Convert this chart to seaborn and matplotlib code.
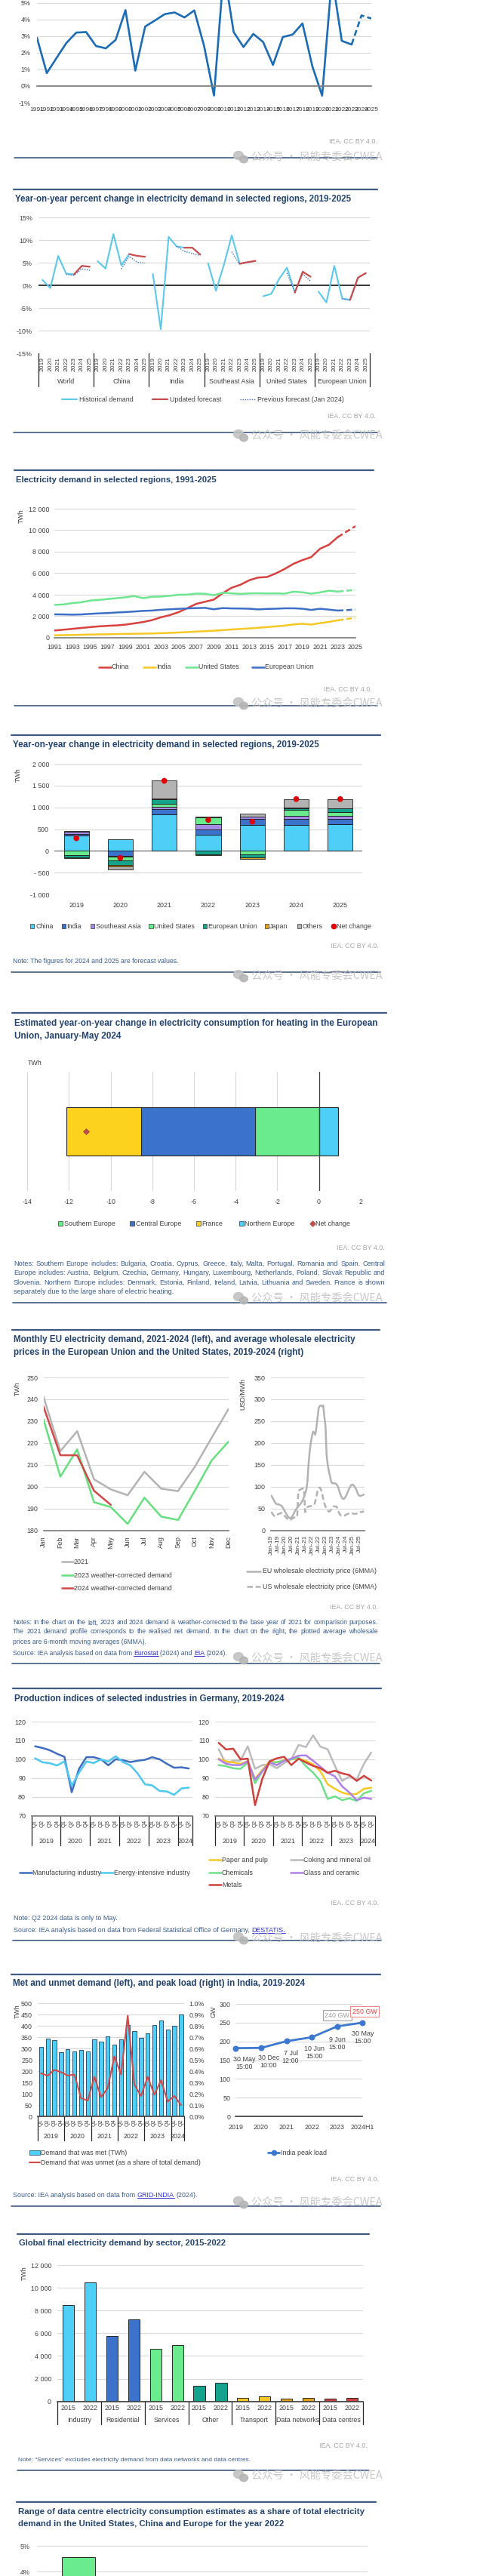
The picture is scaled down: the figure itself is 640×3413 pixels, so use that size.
import numpy as np
import pandas as pd
import matplotlib
matplotlib.use("Agg")
import matplotlib.pyplot as plt
import seaborn as sns
from matplotlib import font_manager as fm
from matplotlib.lines import Line2D
from matplotlib.patches import Rectangle, Ellipse

# ======================= DATA =======================
# Panel 1: world electricity demand growth (%)
world_years = list(range(1991, 2026))
world_growth_pct = [2.9, 0.78, 1.7, 2.6, 3.22, 3.25, 2.41, 2.27, 2.78, 4.57,
                    0.93, 3.58, 3.95, 4.33, 4.43, 4.13, 4.55, 2.4, -0.57, 7.0,
                    3.25, 2.35, 3.14, 2.65, 1.27, 2.95, 3.1, 3.77, 1.2, -0.58,
                    6.6, 2.72, 2.5, 4.25, 4.07]

# Panel 2: y-o-y % change per region
yoy_regions = ["World", "China", "India", "Southeast Asia", "United States", "European Union"]
yoy_years = ["2019", "2020", "2021", "2022", "2023", "2024", "2025"]
hist_world = [1.2, -0.6, 6.5, 2.6, 2.4]
hist_china = [5.3, 3.7, 11.3, 4.4, 6.9]
hist_india = [2.5, -9.7, 10.7, 8.6, 8.3]
hist_sea = [4.8, -1.2, 4.5, 11.0, 4.8]
hist_us = [-2.4, -1.9, 1.4, 3.9, -1.6]
hist_eu = [-1.4, -3.8, 4.3, -2.9, -3.2]
upd_world = [2.4, 4.3, 4.1]
upd_china = [6.9, 6.5, 6.3]
upd_india = [8.3, 8.3, 6.8]
upd_sea = [4.8, 5.1, 5.4]
upd_us = [-1.6, 3.0, 1.9]
upd_eu = [-3.2, 1.7, 2.7]
prev_world = [2.4, 2.2, 3.6, 3.3]
prev_china = [3.6, 6.4, 5.1, 4.9]
prev_india = [8.6, 7.5, 7.0, 6.6]
prev_sea = [7.4, 4.6, 5.0, 5.3]
prev_us = [2.7, -1.4, 2.5, 0.9]
prev_eu = [-3.0, -3.3, 1.6, 2.6]

# Panel 3: electricity demand (TWh) 1991-2025
china_twh = [680, 750, 830, 910, 990, 1060, 1110, 1150, 1220, 1340, 1460, 1640, 1900, 2100,
             2380, 2750, 3150, 3350, 3550, 4150, 4650, 4930, 5350, 5600, 5650, 5980, 6400,
             6880, 7220, 7500, 8280, 8650, 9360, 9870, 10380]
india_twh = [230, 245, 260, 280, 300, 315, 330, 345, 360, 375, 385, 400, 425, 455, 490, 530,
             575, 610, 660, 710, 770, 820, 870, 930, 990, 1060, 1130, 1240, 1300, 1230, 1360,
             1480, 1620, 1750, 1870]
us_twh = [3060, 3100, 3220, 3300, 3460, 3520, 3600, 3680, 3760, 3880, 3690, 3810, 3830, 3900,
          4000, 4010, 4110, 4090, 3950, 4190, 4130, 4080, 4120, 4140, 4120, 4130, 4100, 4290,
          4230, 4100, 4220, 4380, 4290, 4380, 4450]
eu_twh = [2180, 2170, 2150, 2170, 2220, 2270, 2300, 2350, 2390, 2440, 2500, 2530, 2600, 2650,
          2690, 2730, 2760, 2780, 2650, 2760, 2730, 2720, 2700, 2640, 2680, 2700, 2740, 2740,
          2700, 2590, 2700, 2620, 2530, 2570, 2630]

# Panel 4: y-o-y change (TWh) stacked
chg_years = ["2019", "2020", "2021", "2022", "2023", "2024", "2025"]
chg_china = [350, 260, 830, 372, 593, 600, 612]
chg_india = [45, -120, 135, 116, 135, 130, 118]
chg_sea = [40, -15, 40, 122, 59, 80, 70]
chg_us = [-105, -85, 75, 159, -75, 130, 88]
chg_eu = [-40, -100, 100, -80, -75, 45, 88]
chg_japan = [-20, -30, 30, -10, -30, 10, 0]
chg_others = [20, -70, 400, 25, 70, 190, 205]
chg_net = [290, -160, 1610, 710, 670, 1190, 1190]

# Panel 5: heating change (TWh)
heat_regions = ["Southern Europe", "Central Europe", "France", "Northern Europe"]
heat_change = [-3.05, -5.5, -3.58, 0.94]
heat_net = [-11.19]

# Panel 6: monthly EU demand (TWh) & prices (USD/MWh)
months = ["Jan", "Feb", "Mar", "Apr", "May", "Jun", "Jul", "Aug", "Sep", "Oct", "Nov", "Dec"]
dem_2021 = [241.1, 216.3, 225.4, 203.4, 198.8, 196.1, 206.8, 199.1, 198.0, 209.1, 222.4, 235.5]
dem_2023 = [230.7, 204.6, 217.1, 192.9, 190.7, 183.0, 195.0, 186.3, 184.8, 198.2, 212.0, 220.6]
dem_2024 = [236.6, 214.4, 214.4, 198.2, 191.7]
price_tick_labels = ["Jan-19", "Jul-19", "Jan-20", "Jul-20", "Jan-21", "Jul-21", "Jan-22",
                     "Jul-22", "Jan-23", "Jul-23", "Jan-24", "Jul-24", "Jan-25", "Jul-25"]
eu_price = [80, 76, 71, 66, 62, 60, 60, 59, 58, 57, 53, 49, 44, 40, 35, 31, 29, 28, 30, 34,
            39, 44, 48, 52, 55, 58, 61, 65, 70, 76, 84, 92, 110, 150, 180, 200, 215, 226, 224,
            219, 235, 258, 280, 285, 286, 284, 286, 260, 240, 172, 150, 135, 125, 112, 108, 108,
            108, 107, 105, 100, 92, 84, 77, 73, 72, 74, 78, 84, 90, 96, 101, 104, 105, 103, 99,
            95, 88, 82, 79, 79, 80, 81, 82]
us_price = [42, 39, 35, 33, 32, 34, 37, 38, 39, 40, 39, 36, 33, 30, 27, 26, 23, 24, 26, 28,
            29, 30, 30, 31, 90, 92, 94, 95, 96, 95, 42, 48, 53, 55, 55, 56, 56, 57, 58, 66, 78,
            90, 97, 98, 94, 85, 72, 62, 55, 50, 46, 43, 44, 48, 52, 55, 55, 55, 54, 46, 40, 36,
            34, 33, 33, 34, 36, 37, 38, 39, 40, 40, 39, 38, 38, 38, 39, 40, 41, 42, 42, 43, 44]

# Panel 7: German production indices (quarters 2019Q1-2024Q2)
q_years = ["2019", "2020", "2021", "2022", "2023", "2024"]
q_labels = ["Q1", "Q2", "Q3", "Q4"] * 5 + ["Q1", "Q2"]
manufacturing = [106.9, 106.0, 104.8, 102.9, 101.3, 82.5, 94.9, 101.1, 101.1, 100.0, 96.8,
                 100.0, 99.5, 98.5, 99.2, 99.7, 101.1, 100.0, 97.6, 95.5, 95.7, 95.1]
energy_intensive = [100.5, 98.4, 97.9, 96.7, 98.9, 85.9, 92.9, 98.8, 98.0, 99.9, 98.8, 101.6,
                    98.5, 96.8, 92.5, 86.7, 86.1, 83.2, 82.9, 81.1, 84.5, 84.9]
paper_pulp = [100.3, 98.9, 98.3, 97.6, 98.9, 89.6, 94.3, 98.9, 98.3, 99.6, 100.0, 100.3, 99.2,
              97.3, 93.6, 86.7, 84.3, 82.3, 81.3, 81.6, 84.3, 84.9]
coking_oil = [105.3, 97.6, 99.3, 99.3, 106.9, 94.9, 96.9, 97.3, 95.3, 97.9, 100.0, 107.6, 106.5,
              112.7, 106.7, 105.3, 96.5, 88.5, 90.9, 89.3, 97.6, 103.6]
chemicals = [96.9, 96.3, 95.2, 94.9, 98.3, 87.3, 93.6, 97.9, 98.5, 99.2, 100.0, 100.9, 96.3,
             92.9, 88.3, 78.9, 80.3, 78.3, 79.2, 77.9, 81.9, 83.2]
glass_ceramic = [100.0, 97.6, 96.9, 96.9, 98.9, 89.2, 93.6, 98.3, 96.9, 99.2, 100.3, 101.9,
                 102.1, 99.2, 96.0, 92.9, 90.9, 85.6, 82.3, 78.3, 79.6, 78.9]
metals = [108.7, 105.2, 105.6, 100.0, 100.3, 75.6, 89.6, 98.9, 100.5, 101.3, 96.9, 100.3, 98.3,
          96.5, 95.2, 92.8, 93.9, 92.5, 91.6, 88.5, 91.2, 88.7]

# Panel 8: India
met_twh = [306, 342, 336, 282, 298, 287, 292, 288, 340, 329, 352, 317, 340, 402, 378, 348,
           366, 402, 422, 382, 399, 449]
unmet_pct = [0.38, 0.36, 0.41, 0.39, 0.36, 0.37, 0.16, 0.14, 0.35, 0.17, 0.25, 0.53, 0.37,
             0.89, 0.28, 0.18, 0.35, 0.19, 0.32, 0.13, 0.18, 0.10]
peak_periods = ["2019", "2020", "2021", "2022", "2023", "2024H1"]
peak_gw = [182, 182.5, 200.5, 211, 240, 250]
peak_times = ["30 May\n15:00", "30 Dec\n10:00", "7 Jul\n12:00", "10 Jun\n15:00",
              "9 Jun\n15:00", "30 May\n15:00"]

# Panel 9: global final demand by sector (TWh)
sectors = ["Industry", "Residential", "Services", "Other", "Transport", "Data networks", "Data centres"]
sector_years = ["2015", "2022"]
demand_2015 = [8500, 5750, 4600, 1350, 290, 220, 220]
demand_2022 = [10500, 7200, 4950, 1650, 440, 290, 300]

# Panel 10: data centre share ranges (%)
dc_regions = ["United States", "China", "Europe"]
dc_low = [1.3, 1.0, 1.8]
dc_high = [4.55, 2.6, 3.1]

# ======================= STYLE =======================
sns.set_theme(style="white")
avail = {f.name for f in fm.fontManager.ttflist}
NARROW = "Liberation Sans Narrow" in avail
FONT = "Liberation Sans Narrow" if NARROW else "Liberation Sans"
SZ = 7.3 if NARROW else 6.4
plt.rcParams["font.family"] = [FONT, "DejaVu Sans"]
plt.rcParams["axes.unicode_minus"] = False

TXT = "#404040"
GRID = "#d9d9d9"
NAVY = "#23436e"
SEP = "#3e5a80"
NOTE = "#3d5d8f"
LINK = "#2f2fd0"
IEAC = "#a6a6a6"
C_CYAN = "#4dcff7"
C_BLUE = "#3b73cc"
C_PURPLE = "#a68be6"
C_GREEN = "#6aec8e"
C_TEAL = "#14a38d"
C_GOLD = "#e2a31a"
C_YELLOW = "#f5c826"
C_GRAY = "#b3b3b3"
C_RED = "#d6443f"
C_LINE = "#1c6cb5"

W, H = 640, 3413
fig = plt.figure(figsize=(W / 100, H / 100), dpi=100, facecolor="white")
R = fig.canvas.get_renderer()


def fy(y):
    return 1 - y / H


def ax_at(x0, y0, x1, y1):
    ax = fig.add_axes([x0 / W, 1 - y1 / H, (x1 - x0) / W, (y1 - y0) / H])
    ax.set_facecolor("none")
    for s in ax.spines.values():
        s.set_visible(False)
    ax.tick_params(length=0, labelsize=SZ, labelcolor=TXT)
    return ax


def T(x, y, s, size=None, color=TXT, ha="left", va="center", **kw):
    return fig.text(x / W, fy(y), s, fontsize=size or SZ, color=color, ha=ha, va=va, **kw)


def hline(x0, x1, y, color, lw, ls="-"):
    fig.add_artist(Line2D([x0 / W, x1 / W], [fy(y), fy(y)], color=color, lw=lw, ls=ls,
                          transform=fig.transFigure))


def wpx(t):
    return t.get_window_extent(renderer=R).width


def fit(t, target):
    t.set_fontsize(t.get_fontsize() * target / wpx(t))
    return t


def title(x, y, lines, width, dy=17):
    t0 = fit(T(x, y, lines[0], size=10, color=NAVY, weight="bold"), width)
    for i, ln in enumerate(lines[1:], 1):
        T(x, y + dy * i, ln, size=t0.get_fontsize(), color=NAVY, weight="bold")


def paragraph(x0, x1, ys, lines, color=NOTE):
    sizes = []
    for ln in lines[:-1]:
        t = T(x0, ys[0], ln, size=8, color=color)
        sizes.append(8 * (x1 - x0) / wpx(t))
        t.remove()
    size = min(sizes)
    for i, (ln, y) in enumerate(zip(lines, ys)):
        if i == len(lines) - 1:
            T(x0, y, ln, size=size, color=color)
            continue
        words = ln.split(" ")
        ts = [T(x0, y, w_, size=size, color=color) for w_ in words]
        ws = [wpx(t) for t in ts]
        gap = (x1 - x0 - sum(ws)) / (len(words) - 1)
        cx = x0
        for t, w_ in zip(ts, ws):
            t.set_x(cx / W)
            cx += w_ + gap


def rich(x, y, tokens, target, color=NOTE):
    full = " ".join(tk for tk, _ in tokens)
    t = T(x, y, full, size=8, color=color)
    size = 8 * target / wpx(t)
    t.remove()
    a = T(x, y, "a a", size=size)
    b = T(x, y, "aa", size=size)
    sp = wpx(a) - wpx(b)
    a.remove()
    b.remove()
    cx = x
    for tk, link in tokens:
        t = T(cx, y, tk, size=size, color=LINK if link else color)
        w_ = wpx(t)
        if link:
            hline(cx, cx + w_, y + size / 0.72 * 0.45, LINK, 0.7)
        cx += w_ + sp


def iea(x, y):
    T(x, y, "IEA. CC BY 4.0.", color=IEAC, ha="right")


def watermark(y):
    c = "#c2c2c2"
    fig.add_artist(Ellipse((316 / W, fy(y - 2)), 13 / W, 11 / H, transform=fig.transFigure,
                           color=c, alpha=0.9, zorder=30))
    fig.add_artist(Ellipse((323 / W, fy(y + 3)), 11 / W, 9.5 / H, transform=fig.transFigure,
                           color="#b5b5b5", alpha=0.9, zorder=31))
    t = T(333, y, "公众号 · 风能专委会CWEA", size=11, color=c,
          family=["Noto Sans CJK SC", "DejaVu Sans"], alpha=0.9, zorder=30)
    fit(t, 173)


def leg_line(x0, x1, y, color, lw=1.8, ls="-", marker=None):
    fig.add_artist(Line2D([x0 / W, x1 / W], [fy(y)] * 2, color=color, lw=lw, ls=ls,
                          transform=fig.transFigure))
    if marker:
        fig.add_artist(Line2D([(x0 + x1) / 2 / W], [fy(y)], marker=marker, ms=4.5, color=color,
                              transform=fig.transFigure))


def leg_sq(xc, y, color, s=5.5):
    fig.add_artist(Rectangle(((xc - s / 2) / W, fy(y + s / 2)), s / W, s / H, fc=color,
                             ec="#333333", lw=0.5, transform=fig.transFigure))


def leg_mark(xc, y, color, marker, ms=4.5):
    fig.add_artist(Line2D([xc / W], [fy(y)], marker=marker, ms=ms, color=color, lw=0,
                          transform=fig.transFigure))


def group_axis(ax, bounds, centers, labels, lab_frac, end_frac):
    tr = ax.get_xaxis_transform()
    for b in bounds:
        ax.add_line(Line2D([b, b], [0, -end_frac], transform=tr, color="#262626", lw=0.9,
                           clip_on=False))
    for c, l in zip(centers, labels):
        ax.text(c, -lab_frac, l, transform=tr, ha="center", va="center", fontsize=SZ, color=TXT)


def ygrid(ax):
    ax.yaxis.grid(True, color=GRID, lw=0.8)
    ax.set_axisbelow(True)


def fmt_th(v):
    return f"{int(v):,}".replace(",", " ")


# ======================= PANEL 1 =======================
ax = ax_at(49, 0, 492, 136)
sns.lineplot(x=world_years[:33], y=world_growth_pct[:33], ax=ax, color=C_LINE, lw=1.9)
sns.lineplot(x=world_years[32:], y=world_growth_pct[32:], ax=ax, color=C_LINE, lw=1.9,
             linestyle=(0, (3, 1.6)))
ax.set_xlim(1991, 2025)
ax.set_ylim(-1, 5.18)
ax.set_yticks(range(-1, 6))
ax.set_yticklabels([f"{v}%" for v in range(-1, 6)])
ygrid(ax)
ax.set_xticks(world_years)
ax.set_xticklabels([str(y) for y in world_years], rotation=90)
ax.spines["bottom"].set_visible(True)
ax.spines["bottom"].set_position(("data", 0))
ax.spines["bottom"].set_color("#7f7f7f")
ax.tick_params(axis="x", direction="inout", length=5, color="#595959", width=0.8, pad=18,
               labelsize=SZ * 0.95)
ax.tick_params(axis="y", pad=6)
ax.set_xlabel("")
ax.set_ylabel("")
iea(500, 187)
hline(19, 500, 209, SEP, 1.2)
watermark(208)

# ======================= PANEL 2 =======================
hline(18, 500, 251, SEP, 1.6)
title(20, 264, ["Year-on-year percent change in electricity demand in selected regions, 2019-2025"], 445)
ax = ax_at(51, 288, 490, 468)
hist_map = dict(zip(yoy_regions, [hist_world, hist_china, hist_india, hist_sea, hist_us, hist_eu]))
upd_map = dict(zip(yoy_regions, [upd_world, upd_china, upd_india, upd_sea, upd_us, upd_eu]))
prev_map = dict(zip(yoy_regions, [prev_world, prev_china, prev_india, prev_sea, prev_us, prev_eu]))
rows = []
for g, reg in enumerate(yoy_regions):
    for j, v in zip(range(0, 5), hist_map[reg]):
        rows.append(dict(pos=7 * g + j, val=v, series="hist", region=reg))
    for j, v in zip(range(4, 7), upd_map[reg]):
        rows.append(dict(pos=7 * g + j, val=v, series="upd", region=reg))
    for j, v in zip(range(3, 7), prev_map[reg]):
        rows.append(dict(pos=7 * g + j, val=v, series="prev", region=reg))
yoy_df = pd.DataFrame(rows)
for v in [-10, -5, 5, 10, 15]:
    ax.axhline(v, color=GRID, lw=0.8, zorder=0)
ax.axhline(0, color="#262626", lw=1.3, zorder=1)
sns.lineplot(data=yoy_df[yoy_df.series == "hist"], x="pos", y="val", units="region",
             estimator=None, color="#5cc8ec", lw=1.5, ax=ax)
sns.lineplot(data=yoy_df[yoy_df.series == "prev"], x="pos", y="val", units="region",
             estimator=None, color="#4472c4", lw=1.0, linestyle=(0, (1, 1.2)), ax=ax)
sns.lineplot(data=yoy_df[yoy_df.series == "upd"], x="pos", y="val", units="region",
             estimator=None, color="#c84b4b", lw=1.6, ax=ax)
ax.set_ylim(-15, 15)
ax.set_yticks(range(-15, 16, 5))
ax.set_yticklabels([f"{v}%" for v in range(-15, 16, 5)])
ax.set_xticks(range(42))
ax.set_xticklabels(yoy_years * 6, rotation=90)
ax.tick_params(axis="x", pad=3.5, labelsize=SZ * 0.95)
ax.tick_params(axis="y", pad=5.8)
ax.set_xlabel("")
ax.set_ylabel("")
group_axis(ax, [7 * g - 0.5 for g in range(7)], [7 * g + 3 for g in range(6)], yoy_regions,
           (505 - 468) / 180, (512 - 468) / 180)
ax.set_xlim(-0.5, 41.5)
leg_line(82, 102, 529, "#5cc8ec", lw=1.5)
T(105, 529, "Historical demand")
leg_line(202, 222, 529, "#c84b4b", lw=1.6)
T(225, 529, "Updated forecast")
leg_line(318, 338, 529, "#4472c4", lw=1.0, ls=(0, (1, 1.2)))
T(341, 529, "Previous forecast (Jan 2024)")
iea(498, 552)
hline(18, 500, 573, SEP, 1.2)
watermark(577)

# ======================= PANEL 3 =======================
hline(19, 495, 623, SEP, 1.6)
title(21, 636, ["Electricity demand in selected regions, 1991-2025"], 267)
ax = ax_at(72.3, 674, 471, 845)
for vals, col in [(china_twh, "#d9413f"), (india_twh, C_YELLOW), (us_twh, "#6ee690"),
                  (eu_twh, "#3d6fc6")]:
    sns.lineplot(x=world_years[:33], y=vals[:33], ax=ax, color=col, lw=1.8)
    sns.lineplot(x=world_years[32:], y=vals[32:], ax=ax, color=col, lw=1.8,
                 linestyle=(0, (3, 1.6)))
ax.set_xlim(1991, 2025)
ax.set_ylim(0, 12000)
ax.set_yticks(range(0, 12001, 2000))
ax.set_yticklabels([fmt_th(v) for v in range(0, 12001, 2000)])
ygrid(ax)
ax.spines["bottom"].set_visible(True)
ax.spines["bottom"].set_color("#7f7f7f")
ax.set_xticks(list(range(1991, 2026, 2)))
ax.set_xticklabels([str(y) for y in range(1991, 2026, 2)])
ax.set_xticks(list(range(1992, 2025, 2)), minor=True)
ax.tick_params(axis="x", which="both", length=4, color="#7f7f7f", direction="out", width=0.8)
ax.tick_params(axis="x", which="major", pad=1.5)
ax.tick_params(axis="y", pad=5)
ax.set_xlabel("")
ax.set_ylabel("")
T(28, 684, "TWh", rotation=90, ha="center")
for x0, col, lab in [(131, "#d9413f", "China"), (190, C_YELLOW, "India"),
                     (246, "#6ee690", "United States"), (334, "#3d6fc6", "European Union")]:
    leg_line(x0, x0 + 16, 884, col, lw=1.8)
    T(x0 + 17, 884, lab)
iea(493, 913)
hline(19, 500, 935, SEP, 1.2)
watermark(932)

# ======================= PANEL 4 =======================
hline(15, 504, 974, SEP, 1.6)
title(17, 987, ["Year-on-year change in electricity demand in selected regions, 2019-2025"], 406)
ax = ax_at(72, 1012, 480, 1185)
xs = np.arange(len(chg_years))
chg_series = [chg_china, chg_india, chg_sea, chg_us, chg_eu, chg_japan, chg_others]
chg_colors = [C_CYAN, C_BLUE, C_PURPLE, C_GREEN, C_TEAL, C_GOLD, C_GRAY]
pos_b = np.zeros(len(xs))
neg_b = np.zeros(len(xs))
for vals, col in zip(chg_series, chg_colors):
    v = np.array(vals, float)
    m = v > 0
    ax.bar(xs[m], v[m], 0.57, bottom=pos_b[m], color=col, edgecolor="#1a1a1a", lw=0.6, zorder=2)
    pos_b[m] += v[m]
    m = v < 0
    ax.bar(xs[m], v[m], 0.57, bottom=neg_b[m], color=col, edgecolor="#1a1a1a", lw=0.6, zorder=2)
    neg_b[m] += v[m]
sns.scatterplot(x=xs, y=chg_net, ax=ax, color="#e00000", s=30, edgecolor="none", zorder=5,
                legend=False)
ax.axhline(0, color="#7f7f7f", lw=1.0, zorder=1)
ax.set_ylim(-1000, 2000)
ax.set_yticks([-1000, -500, 0, 500, 1000, 1500, 2000])
ax.set_yticklabels(["-1 000", "- 500", "0", "500", "1 000", "1 500", "2 000"])
ygrid(ax)
ax.set_xticks(xs)
ax.set_xticklabels(chg_years)
ax.tick_params(axis="x", pad=7)
ax.tick_params(axis="y", pad=5)
ax.set_xlim(-0.5, 6.5)
ax.set_xlabel("")
ax.set_ylabel("")
T(24, 1027, "TWh", rotation=90, ha="center")
for xc, xt, col, lab in [(42.3, 47, C_CYAN, "China"), (84.3, 88.3, C_BLUE, "India"),
                         (122.3, 127, C_PURPLE, "Southeast Asia"),
                         (200, 204.3, C_GREEN, "United States"),
                         (271.7, 276, C_TEAL, "European Union"), (353.3, 357.3, C_GOLD, "Japan"),
                         (396.7, 400.7, C_GRAY, "Others")]:
    leg_sq(xc, 1227, col)
    T(xt, 1227, lab)
leg_mark(441.7, 1227, "#e00000", "o", ms=4.5)
T(446, 1227, "Net change")
iea(502, 1253)
fit(T(17, 1274, "Note: The figures for 2024 and 2025 are forecast values.", size=8, color=NOTE), 222)
hline(15, 504, 1288, SEP, 1.2)
watermark(1293)

# ======================= PANEL 5 =======================
hline(16, 512, 1342, SEP, 1.6)
title(19, 1356, ["Estimated year-on-year change in electricity consumption for heating in the European",
                 "Union, January-May 2024"], 482)
T(37, 1408, "TWh")
ax = ax_at(36.3, 1420, 477.7, 1578)
heat_colors = [C_GREEN, C_BLUE, "#fdd21f", C_CYAN]
left_neg = 0.0
for v, col in zip(heat_change, heat_colors):
    if v < 0:
        ax.barh([0], [v], 0.4, left=left_neg, color=col, edgecolor="#262626", lw=0.8, zorder=2)
        left_neg += v
    else:
        ax.barh([0], [v], 0.4, left=0, color=col, edgecolor="#262626", lw=0.8, zorder=2)
sns.scatterplot(x=heat_net, y=[0], ax=ax, marker="D", color="#c0504d", s=16, edgecolor="#8b2a2a",
                linewidth=0.4, zorder=5, legend=False)
ax.axvline(0, color="#404040", lw=0.9, zorder=3)
ax.set_xlim(-14, 2)
ax.set_ylim(-0.5, 0.5)
ax.set_xticks(range(-14, 3, 2))
ax.set_xticklabels([str(v) for v in range(-14, 3, 2)])
ax.set_yticks([])
ax.xaxis.grid(True, color=GRID, lw=0.8)
ax.set_axisbelow(True)
ax.tick_params(axis="x", pad=7)
ax.set_xlabel("")
ax.set_ylabel("")
for xc, xt, col, lab in [(80, 85, C_GREEN, "Southern Europe"), (175, 179.7, C_BLUE, "Central Europe"),
                         (263, 267.3, "#fdd21f", "France"), (320, 324.3, C_CYAN, "Northern Europe")]:
    leg_sq(xc, 1621, col)
    T(xt, 1621, lab)
leg_mark(414, 1621, "#c0504d", "D", ms=3.5)
T(417.7, 1621, "Net change")
iea(510, 1653)
paragraph(18, 510, [1674, 1686.7, 1699, 1712], [
    "Notes: Southern Europe includes: Bulgaria, Croatia, Cyprus, Greece, Italy, Malta, Portugal, Romania and Spain. Central",
    "Europe includes: Austria, Belgium, Czechia, Germany, Hungary, Luxembourg, Netherlands, Poland, Slovak Republic and",
    "Slovenia. Northern Europe includes: Denmark, Estonia, Finland, Ireland, Latvia, Lithuania and Sweden. France is shown",
    "separately due to the large share of electric heating."])
hline(17, 512, 1726, SEP, 1.2)
watermark(1720)

# ======================= PANEL 6 =======================
hline(16, 503, 1762, SEP, 1.6)
title(18, 1775, ["Monthly EU electricity demand, 2021-2024 (left), and average wholesale electricity",
                 "prices in the European Union and the United States, 2019-2024 (right)"], 451)
ax = ax_at(57.7, 1825, 302.7, 2027.7)
mx = np.arange(12)
sns.lineplot(x=mx, y=dem_2021, ax=ax, color=C_GRAY, lw=1.8)
sns.lineplot(x=mx, y=dem_2023, ax=ax, color="#66e07f", lw=1.8)
sns.lineplot(x=mx[:5], y=dem_2024, ax=ax, color="#d04a4a", lw=1.8)
ax.set_xlim(0, 11)
ax.set_ylim(180, 250)
ax.set_yticks(range(180, 251, 10))
ygrid(ax)
ax.spines["bottom"].set_visible(True)
ax.spines["bottom"].set_color("#7f7f7f")
ax.set_xticks(mx)
ax.set_xticklabels(months, rotation=90)
ax.tick_params(axis="x", length=4, color="#7f7f7f", direction="out", width=0.8, pad=1.5)
ax.tick_params(axis="y", pad=5.5)
ax.set_xlabel("")
ax.set_ylabel("")
T(23, 1840, "TWh", rotation=90, ha="center")

ax = ax_at(359.3, 1825, 482.7, 2027.7)
px = np.arange(len(eu_price))
sns.lineplot(x=px, y=eu_price, ax=ax, color=C_GRAY, lw=1.8)
sns.lineplot(x=px, y=us_price, ax=ax, color=C_GRAY, lw=1.8, linestyle=(0, (3, 1.5)))
ax.set_xlim(0, 82.3)
ax.set_ylim(0, 350)
ax.set_yticks(range(0, 351, 50))
ygrid(ax)
ax.spines["bottom"].set_visible(True)
ax.spines["bottom"].set_color("#7f7f7f")
ax.set_xticks(range(0, 79, 6))
ax.set_xticklabels(price_tick_labels, rotation=90)
ax.tick_params(axis="x", length=3, color="#7f7f7f", direction="out", width=0.8, pad=1.5,
               labelsize=SZ * 0.95)
ax.tick_params(axis="y", pad=5.8)
ax.set_xlabel("")
ax.set_ylabel("")
T(322, 1847, "USD/MWh", rotation=90, ha="center")

leg_line(82, 97, 2069, C_GRAY)
T(98, 2069, "2021")
leg_line(82, 97, 2087, "#66e07f")
T(98, 2087, "2023 weather-corrected demand")
leg_line(82, 97, 2104, "#d04a4a")
T(98, 2104, "2024 weather-corrected demand")
leg_line(327, 345, 2082, C_GRAY)
T(348, 2082, "EU wholesale electricity price (6MMA)")
leg_line(327, 345, 2102, C_GRAY, ls=(0, (3, 1.5)))
T(348, 2102, "US wholesale electricity price (6MMA)")
iea(501, 2129)
paragraph(17, 501, [2150, 2162, 2175], [
    "Notes: In the chart on the left, 2023 and 2024 demand is weather-corrected to the base year of 2021 for comparison purposes.",
    "The 2021 demand profile corresponds to the realised net demand. In the chart on the right, the plotted average wholesale",
    "prices are 6-month moving averages (6MMA)."])
rich(17, 2190, [("Source: IEA analysis based on data from", False), ("Eurostat", True),
                ("(2024) and", False), ("EIA", True), ("(2024).", False)], 288)
hline(16, 503, 2204, SEP, 1.2)
watermark(2197)

# ======================= PANEL 7 =======================
hline(17, 505, 2237, SEP, 1.6)
title(19, 2251, ["Production indices of selected industries in Germany, 2019-2024"], 357)
qx = np.arange(22)
q_bounds = [-0.5, 3.5, 7.5, 11.5, 15.5, 19.5, 21.5]
q_centers = [1.5, 5.5, 9.5, 13.5, 17.5, 20.5]
for (x0, x1), series in [((41.7, 255), [(manufacturing, "#3d6cc0"), (energy_intensive, "#4dc8f0")]),
                         ((285, 496.7), [(coking_oil, "#bcbcbc"), (paper_pulp, C_YELLOW),
                                         (chemicals, "#6ee08a"), (glass_ceramic, "#b07fe8"),
                                         (metals, "#d0403c")])]:
    ax = ax_at(x0, 2281, x1, 2405.7)
    for vals, col in series:
        sns.lineplot(x=qx, y=vals, ax=ax, color=col, lw=1.8)
    ax.set_ylim(70, 120)
    ax.set_yticks(range(70, 121, 10))
    ygrid(ax)
    ax.spines["bottom"].set_visible(True)
    ax.spines["bottom"].set_color("#7f7f7f")
    ax.set_xticks(qx)
    ax.set_xticklabels(q_labels, rotation=90)
    ax.tick_params(axis="x", pad=4, labelsize=SZ * 0.85)
    ax.tick_params(axis="y", pad=5.5)
    ax.set_xlabel("")
    ax.set_ylabel("")
    group_axis(ax, q_bounds, q_centers, q_years, (2439 - 2405.7) / 124.7, (2445 - 2405.7) / 124.7)
    ax.set_xlim(-0.5, 21.5)
leg_line(26, 42, 2481, "#3d6cc0")
T(43, 2481, "Manufacturing industry")
leg_line(133, 150, 2481, "#4dc8f0")
T(151, 2481, "Energy-intensive industry")
for (xl, y, col, lab) in [(277, 2464, C_YELLOW, "Paper and pulp"), (277, 2481, "#6ee08a", "Chemicals"),
                          (277, 2497, "#d0403c", "Metals"), (385, 2464, "#bcbcbc", "Coking and mineral oil"),
                          (385, 2481, "#b07fe8", "Glass and ceramic")]:
    leg_line(xl, xl + 16, y, col)
    T(xl + 17, y, lab)
iea(502, 2522)
fit(T(18, 2542, "Note: Q2 2024 data is only to May.", size=8, color=NOTE), 137)
rich(18, 2557, [("Source: IEA analysis based on data from Federal Statistical Office of Germany,", False),
                ("DESTATIS.", True)], 360)
hline(17, 505, 2571, SEP, 1.2)
watermark(2568)

# ======================= PANEL 8 =======================
hline(15, 504, 2616, SEP, 1.6)
title(17, 2628, ["Met and unmet demand (left), and peak load (right) in India, 2019-2024"], 386)
ax = ax_at(50, 2654, 244.3, 2804)
sns.barplot(x=qx, y=met_twh, ax=ax, native_scale=True, color=C_CYAN, saturation=1, width=0.6,
            edgecolor="#1f3a5f", linewidth=0.6, errorbar=None, zorder=2)
ax.set_ylim(0, 500)
ax.set_yticks(range(0, 501, 50))
ygrid(ax)
ax.spines["bottom"].set_visible(True)
ax.spines["bottom"].set_color("#404040")
ax.set_xticks(qx)
ax.set_xticklabels(q_labels, rotation=90)
ax.tick_params(axis="x", pad=2.5, labelsize=SZ * 0.8)
ax.tick_params(axis="y", pad=5)
ax.set_xlabel("")
ax.set_ylabel("")
ax2 = ax.twinx()
ax2.set_facecolor("none")
for s in ax2.spines.values():
    s.set_visible(False)
sns.lineplot(x=qx, y=unmet_pct, ax=ax2, color="#d04a4a", lw=1.5)
ax2.set_ylim(0, 1.0)
ax2.set_yticks(np.round(np.arange(0, 1.01, 0.1), 1))
ax2.set_yticklabels([f"{v:.1f}%" for v in np.arange(0, 1.01, 0.1)])
ax2.tick_params(axis="y", length=0, labelsize=SZ, labelcolor=TXT, pad=4.6)
ax2.set_ylabel("")
group_axis(ax, q_bounds, q_centers, q_years, (2830 - 2804) / 150, (2836 - 2804) / 150)
ax.set_xlim(-0.5, 21.5)
T(23, 2665, "TWh", rotation=90, ha="center")

ax = ax_at(312.3, 2655, 480.3, 2804)
pk = np.arange(6)
sns.lineplot(x=pk, y=peak_gw, ax=ax, color="#3c78d0", lw=2, marker="o", markersize=5,
             markeredgecolor="#3c78d0", clip_on=False)
ax.set_xlim(0, 5)
ax.set_ylim(0, 300)
ax.set_yticks(range(0, 301, 50))
ygrid(ax)
ax.spines["bottom"].set_visible(True)
ax.spines["bottom"].set_color("#404040")
ax.set_xticks(pk)
ax.set_xticklabels(peak_periods)
ax.tick_params(axis="x", length=4, color="#404040", direction="out", width=0.8, pad=3)
ax.tick_params(axis="y", pad=4.8)
ax.set_xlabel("")
ax.set_ylabel("")
offsets = [(7.9, -14), (7.2, -13), (4, -15), (2.2, -14.4), (0, -16.2), (0, -14)]
for i, (txt, off) in enumerate(zip(peak_times, offsets)):
    ax.annotate(txt, (i, peak_gw[i]), xytext=off, textcoords="offset points", ha="center",
                va="center", fontsize=SZ, color=TXT, linespacing=1.15, annotation_clip=False)
ax.annotate(f"{peak_gw[4]:.0f} GW", (4, peak_gw[4]), xytext=(0, 10.5), textcoords="offset points",
            ha="center", va="center", fontsize=SZ, color="#9a9a9a", annotation_clip=False,
            bbox=dict(boxstyle="square,pad=0.3", fc="white", ec="#a0a0a0", lw=0.8))
ax.annotate(f"{peak_gw[5]:.0f} GW", (5, peak_gw[5]), xytext=(2.2, 10.5), textcoords="offset points",
            ha="center", va="center", fontsize=SZ, color="#e04040", annotation_clip=False,
            bbox=dict(boxstyle="square,pad=0.3", fc="white", ec="#f08a8a", lw=0.8))
T(283, 2665, "GW", rotation=90, ha="center")

fig.add_artist(Rectangle((39 / W, fy(2855)), 14 / W, 6 / H, fc=C_CYAN, ec="#1f3a5f", lw=0.5,
                         transform=fig.transFigure))
T(54, 2852, "Demand that was met (TWh)")
leg_line(39, 53, 2865, "#d04a4a", lw=1.5)
T(54, 2865, "Demand that was unmet (as a share of total demand)")
leg_line(355, 370, 2852, "#3c78d0", lw=2, marker="o")
T(372, 2852, "India peak load")
iea(502, 2887)
rich(17, 2908, [("Source: IEA analysis based on data from", False), ("GRID-INDIA", True),
                ("(2024).", False)], 242)
hline(15, 504, 2923, SEP, 1.2)
watermark(2918)

# ======================= PANEL 9 =======================
hline(23, 489, 2960, SEP, 1.6)
title(25, 2972, ["Global final electricity demand by sector, 2015-2022"], 274)
ax = ax_at(75.7, 3001, 481.3, 3181.7)
sector_colors = dict(zip(sectors, [C_CYAN, C_BLUE, C_GREEN, C_TEAL, C_YELLOW, C_GOLD, "#d04040"]))
bar_pos = np.arange(14)
bar_vals = [v for pair in zip(demand_2015, demand_2022) for v in pair]
bar_sector = [s for s in sectors for _ in range(2)]
sns.barplot(x=bar_pos, y=bar_vals, hue=bar_sector, palette=sector_colors, ax=ax, native_scale=True,
            saturation=1, width=0.52, edgecolor="#262626", linewidth=0.7, errorbar=None,
            legend=False, zorder=2)
ax.set_ylim(0, 12000)
ax.set_yticks(range(0, 12001, 2000))
ax.set_yticklabels([fmt_th(v) for v in range(0, 12001, 2000)])
ygrid(ax)
ax.spines["bottom"].set_visible(True)
ax.spines["bottom"].set_color("#404040")
ax.set_xticks(bar_pos)
ax.set_xticklabels(sector_years * 7)
ax.tick_params(axis="x", pad=3)
ax.tick_params(axis="y", pad=5.5)
ax.set_xlabel("")
ax.set_ylabel("")
group_axis(ax, [2 * g - 0.5 for g in range(8)], [2 * g + 0.5 for g in range(7)], sectors,
           (3206 - 3181.7) / 180.7, (3212 - 3181.7) / 180.7)
ax.set_xlim(-0.5, 13.5)
T(32, 3012, "TWh", rotation=90, ha="center")
iea(487, 3240)
fit(T(24, 3259, "Note: \u201cServices\u201d excludes electricity demand from data networks and data centres.",
      size=8, color=NOTE), 310)
hline(23, 489, 3273, SEP, 1.2)
watermark(3280)

# ======================= PANEL 10 =======================
hline(22, 498, 3315, SEP, 1.6)
title(24, 3328, ["Range of data centre electricity consumption estimates as a share of total electricity",
                 "demand in the United States, China and Europe for the year 2022"], 454, dy=16)
ax = ax_at(49, 3373, 487, 3543)
dpos = np.arange(len(dc_regions))
ax.bar(dpos, np.array(dc_high) - np.array(dc_low), 0.4, bottom=dc_low,
       color=[C_GREEN, C_CYAN, C_BLUE], edgecolor="#262626", lw=0.7, zorder=2)
ax.set_xlim(-0.5, 3.5)
ax.set_ylim(0, 5)
ax.set_yticks([4, 5])
ax.set_yticklabels(["4%", "5%"])
ygrid(ax)
ax.set_xticks([])
ax.tick_params(axis="y", pad=6.5)

fig.savefig("out.png", dpi=100, facecolor="white")
